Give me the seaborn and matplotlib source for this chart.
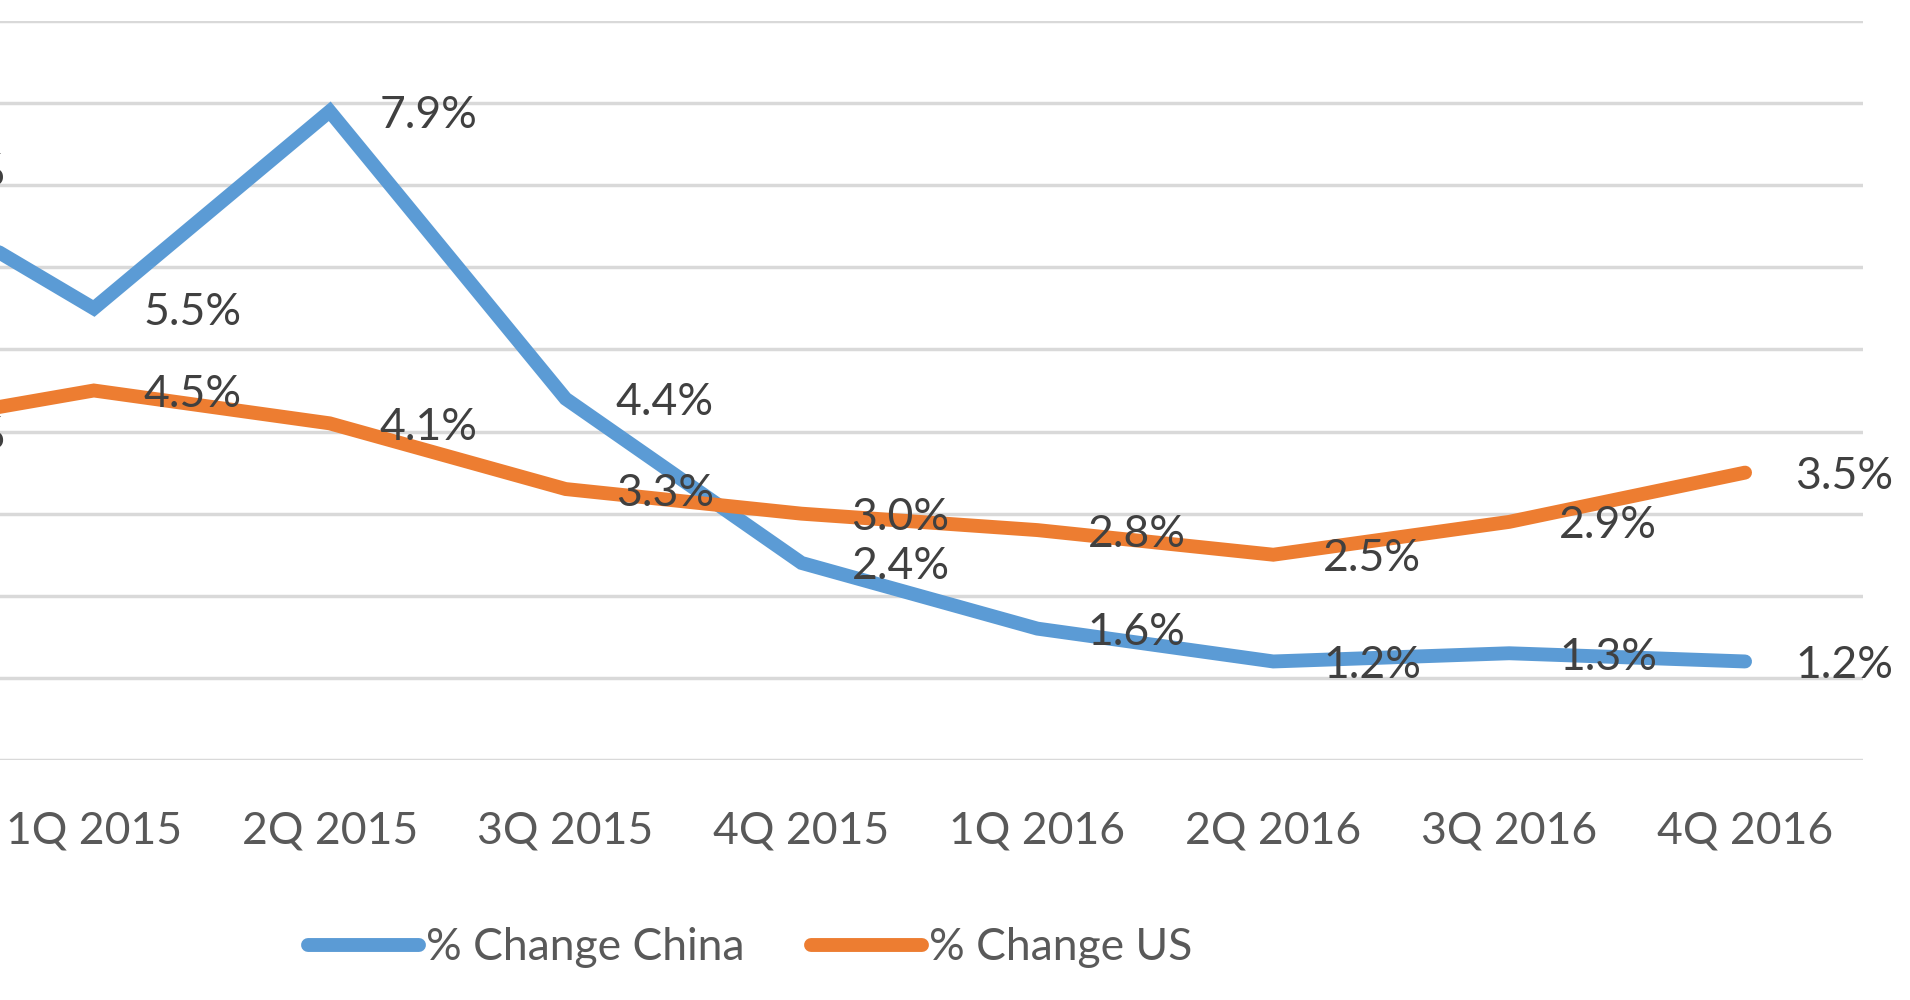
import pandas as pd
import matplotlib.pyplot as plt
import seaborn as sns

# quarters (first one is cut off at the left edge of the picture)
quarters = ["4Q 2014", "1Q 2015", "2Q 2015", "3Q 2015", "4Q 2015",
            "1Q 2016", "2Q 2016", "3Q 2016", "4Q 2016"]
china = [7.2, 5.5, 7.9, 4.4, 2.4, 1.6, 1.2, 1.3, 1.2]
us = [4.0, 4.5, 4.1, 3.3, 3.0, 2.8, 2.5, 2.9, 3.5]
series_names = ["% Change China", "% Change US"]
colors = {"% Change China": "#5B9BD5", "% Change US": "#ED7D31"}

df = pd.DataFrame({
    "Quarter": quarters * 2,
    "Value": china + us,
    "Series": [series_names[0]] * len(quarters) + [series_names[1]] * len(quarters),
})

sns.set_theme(style="white")
plt.rcParams["font.family"] = ["Lato", "DejaVu Sans"]

W, H = 1910, 1000
fig = plt.figure(figsize=(W / 100, H / 100), dpi=100)
# plot area runs past the left edge of the picture (the source was cropped)
left_px, right_px, top_px, bottom_px = -260, 1863, 21, 760
ax = fig.add_axes([left_px / W, 1 - bottom_px / H,
                   (right_px - left_px) / W, (bottom_px - top_px) / H])

sns.lineplot(data=df, x="Quarter", y="Value", hue="Series", palette=colors,
             linewidth=10, sort=False, ax=ax, legend=True)
for line in ax.lines:
    line.set_solid_capstyle("round")
    line.set_solid_joinstyle("miter")

ax.set_xlim(-0.5, len(quarters) - 0.5)
ax.set_ylim(0, 9)
ax.set_yticks(range(0, 10))
ax.grid(axis="y", color="#D9D9D9", linewidth=2.5)
ax.grid(axis="x", visible=False)
ax.set_axisbelow(True)
for s in ax.spines.values():
    s.set_visible(False)
ax.set_xlabel("")
ax.set_ylabel("")
ax.tick_params(axis="y", left=False, labelleft=False)
ax.tick_params(axis="x", bottom=False, pad=30, labelsize=32, labelcolor="#595959")

# data labels to the right of each point
for vals in (china, us):
    for i, v in enumerate(vals):
        ax.annotate(f"{v:.1f}%", (i, v), xytext=(36, 0), textcoords="offset points",
                    ha="left", va="center_baseline", fontsize=32, color="#404040")

handles, labels = ax.get_legend_handles_labels()
ax.legend(handles, labels, loc="center", bbox_to_anchor=(750 / W, 1 - 948 / H),
          bbox_transform=fig.transFigure, ncol=2, frameon=False, fontsize=32,
          labelcolor="#595959", handlelength=2.5, handletextpad=0.15,
          columnspacing=1.5)

fig.savefig("out.png", dpi=100)
